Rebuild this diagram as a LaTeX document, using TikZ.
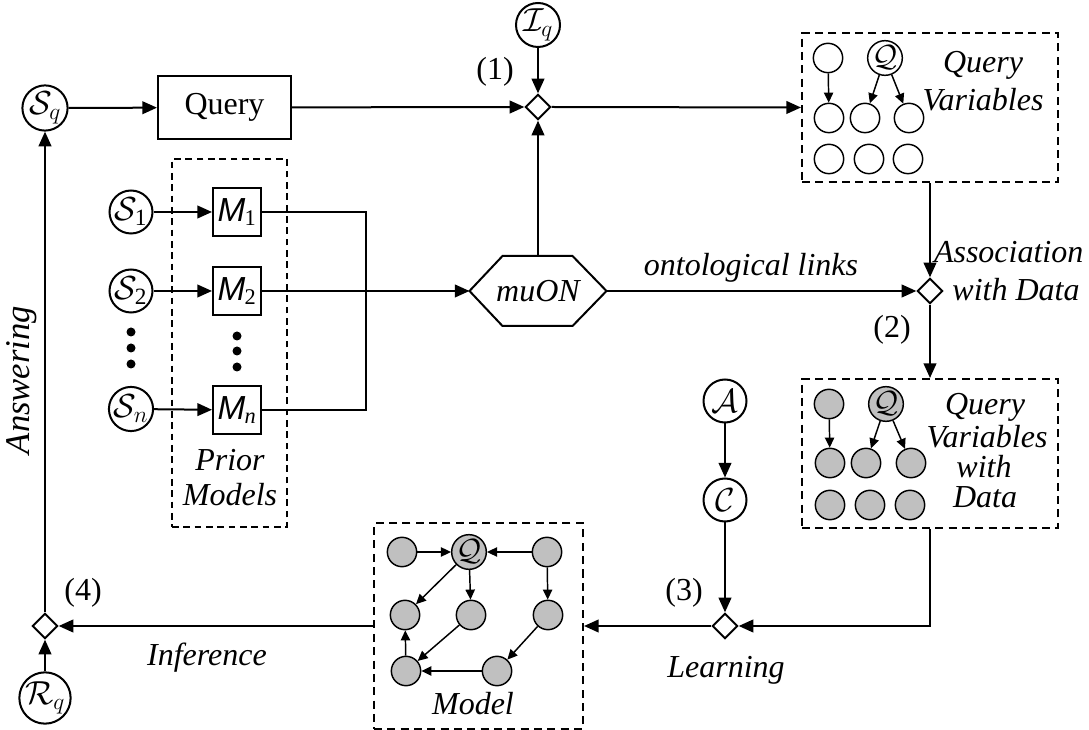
\RequirePackage{fix-cm}
\documentclass[tikz,border=0pt]{standalone}
\usepackage{amsmath}
\usepackage{fontspec}
\setmainfont{Liberation Serif}
\newfontfamily\arialfont{Liberation Sans}
\usetikzlibrary{shapes.geometric,arrows.meta,calc}
\definecolor{fillg}{RGB}{192,192,192}
\newcommand{\Mlab}[1]{{\fontsize{25}{25}\selectfont\arialfont\itshape M}\kern-0.5pt\textsubscript{#1}}
\begin{document}
\begin{tikzpicture}[x=0.75pt,y=-0.75pt,
  font=\fontsize{24}{23}\selectfont,
  every path/.style={line width=1.5pt},
  arr/.style={-{Triangle[length=11pt,width=9.5pt]}},
  sarr/.style={line width=1.1pt,-{Triangle[length=7.5pt,width=7pt]}},
  circ/.style={circle,draw,line width=1.5pt,minimum size=32.25pt,inner sep=0pt,font=\fontsize{25}{25}\selectfont},
  scirc/.style={circle,draw,line width=1.1pt,minimum size=22pt,inner sep=0pt,font=\fontsize{23}{23}\selectfont},
  gcirc/.style={scirc,fill=fillg},
  dia/.style={diamond,draw,fill=white,line width=1.5pt,minimum size=19pt,inner sep=0pt,aspect=1},
  mbox/.style={rectangle,draw,line width=1.5pt,minimum size=36pt,inner sep=0pt},
  dbox/.style={rectangle,draw,line width=1.5pt,dash pattern=on 6pt off 4pt},
  pbox/.style={rectangle,draw,line width=1.5pt,dash pattern=on 5pt off 3.5pt},
  lab/.style={inner sep=0pt}
]
\useasboundingbox (0,0) rectangle (1089,730);

% ---------- top row ----------
\node[circ] (Sq) at (45,108) {$\mathcal{S}_q$};
\node[rectangle,draw,line width=1.5pt,minimum width=99.75pt,minimum height=47.25pt] (query) at (224.5,107.5) {Query};
\node[dia] (d1) at (538,107) {};
\node[circ] (Iq) at (538,25) {$\mathcal{I}_q$};
\node[lab] (l1) at (495,72) {(1)};

% Query Variables box
\node[dbox,minimum width=192pt,minimum height=111.75pt] (qv) at (930,107.5) {};
\node[scirc] (qa) at (828,58) {};
\node[scirc] (qq) at (885,58) {$\mathcal{Q}$};
\node[scirc] (qb) at (829,118) {};
\node[scirc] (qc) at (865,118) {};
\node[scirc] (qd) at (909,118) {};
\node[scirc] (qe) at (829,159) {};
\node[scirc] (qf) at (869,159) {};
\node[scirc] (qg) at (908,159) {};
\node[lab] (qvt1) at (983,65) {\itshape Query};
\node[lab] (qvt2) at (983,100) {\itshape Variables};
\draw[sarr] (qa) -- (qb);
\draw[sarr] (qq) -- (qc);
\draw[sarr] (qq) -- (qd);

% ---------- prior models ----------
\node[pbox,minimum width=86.25pt,minimum height=276pt] (prior) at (229.5,343) {};
\node[circ] (S1) at (131,212) {$\mathcal{S}_{\text{1}}$};
\node[circ] (S2) at (131,291) {$\mathcal{S}_{\text{2}}$};
\node[circ] (Sn) at (131,409) {$\mathcal{S}_n$};
\node[mbox] (M1) at (237,212) {\Mlab{1}};
\node[mbox] (M2) at (237,291) {\Mlab{2}};
\node[mbox] (Mn) at (237,410) {\Mlab{\itshape n}};
\foreach \y in {332,348,364} \fill (131,\y) circle (4.5);
\foreach \y in {336,351,367} \fill (237,\y) circle (4.5);
\node[lab] (pr1) at (230,460) {\itshape Prior};
\node[lab] (pr2) at (230,495) {\itshape Models};
\draw[arr] (S1) -- (M1);
\draw[arr] (S2) -- (M2);
\draw[arr] (Sn) -- (Mn);
\coordinate (jA) at (366,212);
\coordinate (jB) at (366,410);
\draw (M1.east) -- (jA) -- (jB) -- (Mn.east);

% ---------- muON ----------
\node[minimum width=101.25pt,minimum height=51pt,inner sep=0pt] (mu) at (538,291) {\itshape muON};
\draw (mu.west) -- ($(mu.north west)+(33,0)$) -- ($(mu.north east)+(-34,0)$) -- (mu.east)
      -- ($(mu.south east)+(-34,0)$) -- ($(mu.south west)+(33,0)$) -- cycle;
\draw[arr] (M2.east) -- (mu.west);
\draw[arr] (mu.north) -- (d1.south);

% ---------- association ----------
\node[dia] (d2) at (930,291) {};
\node[lab] (ol) at (751,268) {\itshape ontological links};
\node[lab,anchor=west] (as1) at (933,252) {\itshape Association};
\node[lab] (as2) at (1016,290) {\itshape with Data};
\node[lab] (l2) at (892,330) {(2)};
\draw[arr] (mu.east) -- (d2.west);

% Query Variables with Data
\node[dbox,minimum width=192pt,minimum height=111.75pt] (qvd) at (930,453.5) {};
\node[gcirc] (wa) at (829,404) {};
\node[gcirc] (wq) at (886,404) {$\mathcal{Q}$};
\node[gcirc] (wb) at (830,463) {};
\node[gcirc] (wc) at (866,463) {};
\node[gcirc] (wd) at (911,463) {};
\node[gcirc] (we) at (830,505) {};
\node[gcirc] (wf) at (870,505) {};
\node[gcirc] (wg) at (910,505) {};
\node[lab] (wt1) at (985,407) {\itshape Query};
\node[lab] (wt2) at (987,437) {\itshape Variables};
\node[lab] (wt3) at (984,467) {\itshape with};
\node[lab] (wt4) at (985,497) {\itshape Data};
\draw[sarr] (wa) -- (wb);
\draw[sarr] (wq) -- (wc);
\draw[sarr] (wq) -- (wd);

\draw[arr] (query) -- (d1.west);
\draw[arr] (Iq) -- (d1.north);
\draw[arr] (d1.east) -- (qv.west);
\draw[arr] (qv.south) -- (d2.north);
\draw[arr] (d2.south) -- (qvd.north);

% ---------- learning ----------
\node[circ] (A) at (725,401) {$\mathcal{A}$};
\node[circ] (C) at (725,500) {$\mathcal{C}$};
\node[dia] (d3) at (725,626) {};
\node[lab] (l3) at (684,593) {(3)};
\node[lab] (lrn) at (726,670) {\itshape Learning};
\draw[arr] (A) -- (C);
\draw[arr] (C) -- (d3.north);
\draw[arr] (qvd.south) |- (d3.east);

% ---------- model ----------
\node[dbox,minimum width=156.75pt,minimum height=153.75pt] (model) at (478.5,626) {};
\node[gcirc] (ma) at (402,552) {};
\node[gcirc] (mq) at (469,552) {$\mathcal{Q}$};
\node[gcirc] (mb) at (547,552) {};
\node[gcirc] (mc) at (405,615) {};
\node[gcirc] (md) at (471,615) {};
\node[gcirc] (me) at (548,615) {};
\node[gcirc] (mf) at (406,671) {};
\node[gcirc] (mg) at (497,671) {};
\node[lab] (mt) at (473,704) {\itshape Model};
\draw[sarr] (ma) -- (mq);
\draw[sarr] (mb) -- (mq);
\draw[sarr] (mq) -- (mc);
\draw[sarr] (mq) -- (md);
\draw[sarr] (mb) -- (me);
\draw[sarr] (md) -- (mf);
\draw[sarr] (me) -- (mg);
\draw[sarr] (mg) -- (mf);
\draw[sarr] (mf) -- (mc);
\draw[arr] (d3.west) -- (model.east);

% ---------- inference / answering ----------
\node[dia] (d4) at (45,626) {};
\node[circ] (Rq) at (45,698) {$\mathcal{R}_q$};
\node[lab] (l4) at (83,593) {(4)};
\node[lab] (inf) at (207,658) {\itshape Inference};
\node[lab,rotate=90,font=\fontsize{26}{26}\selectfont] (ans) at (22,380) {\itshape Answering};
\draw[arr] (model.west) -- (d4.east);
\draw[arr] (Rq) -- (d4.south);
\draw[arr] (d4.north) -- (Sq);
\draw[arr] (Sq) -- (query);
\end{tikzpicture}
\end{document}
